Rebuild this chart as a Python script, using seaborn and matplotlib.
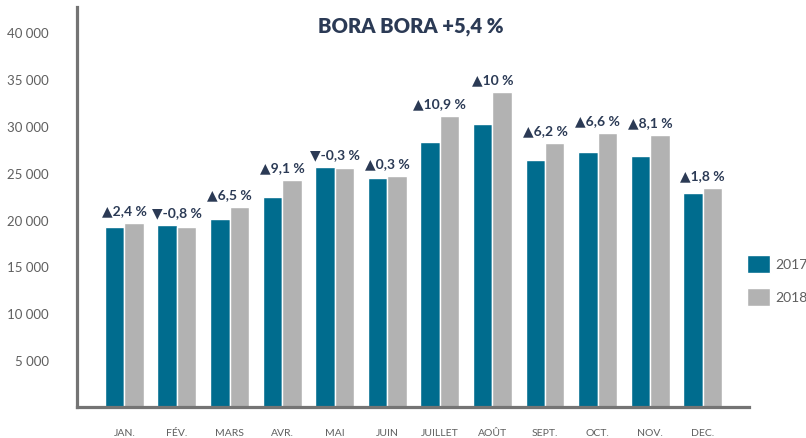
import pandas as pd
import numpy as np
import matplotlib
matplotlib.use("Agg")
import matplotlib.pyplot as plt
import seaborn as sns
from matplotlib.patches import Patch

months = ["JAN.", "FÉV.", "MARS", "AVR.", "MAI", "JUIN", "JUILLET", "AOÛT",
          "SEPT.", "OCT.", "NOV.", "DEC."]
visitors_2017 = [19230, 19440, 20090, 22440, 25640, 24470, 28310, 30240,
                 26390, 27240, 26820, 22860]
visitors_2018 = [19660, 19230, 21370, 24250, 25530, 24680, 31090, 33650,
                 28210, 29270, 29060, 23400]
changes = ["▲2,4 %", "▼-0,8 %", "▲6,5 %", "▲9,1 %", "▼-0,3 %", "▲0,3 %",
           "▲10,9 %", "▲10 %", "▲6,2 %", "▲6,6 %", "▲8,1 %", "▲1,8 %"]
years = ["2017", "2018"]
title = "BORA BORA +5,4 %"

col_2017 = "#006c8e"
col_2018 = "#b2b2b2"
navy = "#2b3a55"
grey_txt = "#5f5f5f"

df = pd.DataFrame({
    "mois": months * 2,
    "annee": ["2017"] * 12 + ["2018"] * 12,
    "visiteurs": visitors_2017 + visitors_2018,
})

sns.set_style("white")
plt.rcParams["font.family"] = ["Lato", "DejaVu Sans"]

fig = plt.figure(figsize=(8.06, 4.39), dpi=100)
ax = fig.add_axes([76.5 / 806, 1 - 408 / 439, (749 - 76.5) / 806, (408 - 8) / 439])

sns.barplot(data=df, x="mois", y="visiteurs", hue="annee", order=months,
            hue_order=years, palette=[col_2017, col_2018], width=0.74,
            saturation=1, errorbar=None, legend=False, ax=ax)

ax.set_xlim(-0.91, 11.88)
ax.set_ylim(0, 42700)
ax.set_xlabel("")
ax.set_ylabel("")

# y ticks without the 0
yt = np.arange(5000, 40001, 5000)
ax.set_yticks(yt)
ax.set_yticklabels([f"{v:,}".replace(",", " ") for v in yt], fontsize=9.5, color=grey_txt)
ax.tick_params(axis="y", length=0, pad=20)
ax.tick_params(axis="x", length=0, pad=15, labelsize=7.5, labelcolor=grey_txt)

for s in ["top", "right"]:
    ax.spines[s].set_visible(False)
for s in ["left", "bottom"]:
    ax.spines[s].set_color("#747474")
    ax.spines[s].set_linewidth(2.3)

# variation labels above each month
for i, lab in enumerate(changes):
    top = max(visitors_2017[i], visitors_2018[i])
    ax.annotate(lab, (i, top), xytext=(0, 5), textcoords="offset points",
                ha="center", va="bottom", fontsize=10, fontweight="bold", color=navy)

fig.text(411 / 806, 1 - 27 / 439, title, ha="center", va="center",
         fontsize=14.5, fontweight="heavy", color=navy)

handles = [Patch(facecolor=col_2017), Patch(facecolor=col_2018)]
fig.legend(handles, years, loc="upper left", bbox_to_anchor=(737 / 806, 1 - 246 / 439),
           frameon=False, fontsize=10, labelcolor=grey_txt, handlelength=1.65,
           handleheight=1.65, handletextpad=0.4, labelspacing=1.05, borderpad=0.2)

fig.savefig("out.png", dpi=100)
